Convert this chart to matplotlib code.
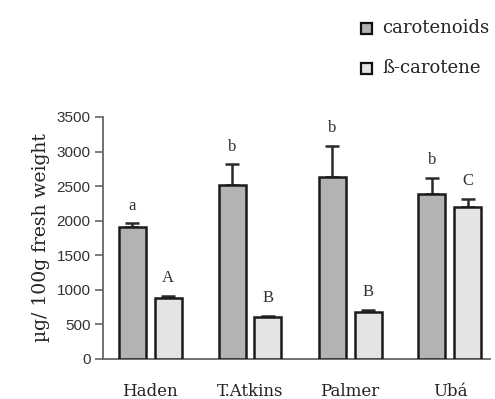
import matplotlib
matplotlib.use("Agg")
import matplotlib.pyplot as plt
import numpy as np
from matplotlib.patches import Rectangle

cultivars = ["Haden", "T.Atkins", "Palmer", "Ubá"]
carotenoids = [1905, 2515, 2635, 2390]
carotenoids_err = [55, 300, 450, 235]
beta_carotene = [880, 605, 675, 2195]
beta_carotene_err = [30, 20, 40, 125]
carot_letters = ["a", "b", "b", "b"]
beta_letters = ["A", "B", "B", "C"]
yticks = [0, 500, 1000, 1500, 2000, 2500, 3000, 3500]

serif = ["DejaVu Serif"]
tserif = ["Liberation Serif", "DejaVu Serif"]
sans = ["Liberation Sans", "DejaVu Sans"]

W, H = 495, 399
fig = plt.figure(figsize=(W / 100, H / 100), dpi=100)
ax = fig.add_axes([103 / W, (H - 359) / H, (490 - 103) / W, (359 - 117) / H])

x = np.arange(len(cultivars))
width = 0.27
off = 0.18
c1 = "#b3b3b3"
c2 = "#e4e4e4"

ax.bar(x - off, carotenoids, width, color=c1, edgecolor="#1a1a1a", linewidth=1.8, zorder=3)
ax.bar(x + off, beta_carotene, width, color=c2, edgecolor="#1a1a1a", linewidth=1.8, zorder=3)
ax.errorbar(x - off, carotenoids, yerr=[np.zeros(4), carotenoids_err], fmt="none",
            ecolor="#2a2a2a", elinewidth=1.8, capsize=5, capthick=1.8, zorder=2)
ax.errorbar(x + off, beta_carotene, yerr=[np.zeros(4), beta_carotene_err], fmt="none",
            ecolor="#2a2a2a", elinewidth=1.8, capsize=5, capthick=1.8, zorder=2)

# significance letters above each error bar
pad = 200
for xi, v, e, t in zip(x - off, carotenoids, carotenoids_err, carot_letters):
    ax.text(xi, v + e + pad, t, ha="center", va="baseline", family=tserif, fontsize=12, color="#333333")
for xi, v, e, t in zip(x + off, beta_carotene, beta_carotene_err, beta_letters):
    ax.text(xi, v + e + pad, t, ha="center", va="baseline", family=tserif, fontsize=12, color="#333333")

ax.set_xlim(-0.47, 3.4)
ax.set_ylim(0, 3500)
ax.set_yticks(yticks)
ax.set_yticklabels([str(t) for t in yticks], family=sans, fontsize=11, color="#333333")
ax.set_xticks(x)
ax.set_xticklabels(cultivars, family=serif, fontsize=12, color="#222222")
ax.tick_params(axis="x", length=0, pad=17)
ax.tick_params(axis="y", length=6, width=1.2, color="#666666", pad=3)
for s in ["top", "right"]:
    ax.spines[s].set_visible(False)
ax.spines["left"].set_color("#666666")
ax.spines["left"].set_linewidth(1.3)
ax.spines["bottom"].set_color("#666666")
ax.spines["bottom"].set_linewidth(1.3)

ax.set_ylabel("µg/ 100g fresh weight", family=serif, fontsize=13.5, color="#222222", labelpad=5)

# legend drawn as boxes with labels in the top right
for yy, col, lab in [(28, c1, "carotenoids"), (68, c2, "ß-carotene")]:
    fig.patches.append(Rectangle((361 / W, (H - yy - 5.5) / H), 11 / W, 11 / H,
                                 transform=fig.transFigure, facecolor=col,
                                 edgecolor="#111111", linewidth=1.6))
    fig.text(382 / W, (H - yy) / H, lab, family=serif, fontsize=13, va="center", ha="left", color="#222222")

fig.savefig("out.png", dpi=100)
